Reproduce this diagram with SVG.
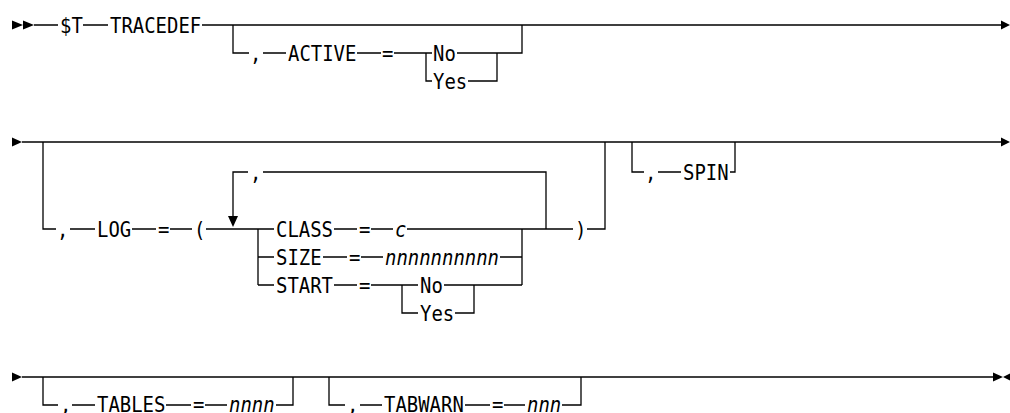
<svg xmlns="http://www.w3.org/2000/svg" width="1010" height="413" viewBox="0 0 1010 413">
<style>
.ln{fill:none;stroke:#000;stroke-width:1.3}
.ah{fill:#000}
text{font-family:"DejaVu Sans Mono","Liberation Mono",monospace;font-size:22px;fill:#000}
.v{font-style:italic}
</style>
<rect width="1010" height="413" fill="#fff"/>
<g id="connectors">
<polygon class="ah" points="12,20.5 23,25 12,29.5"/>
<polygon class="ah" points="23,20.5 34,25 23,29.5"/>
<path class="ln" d="M34,25H58M83,25H108M202,25H1002"/>
<polygon class="ah" points="1001,20.5 1010,25 1001,29.5"/>
<path class="ln" d="M233,25V53H249M263,53H286M357,53H381M394,53H432M457,53H522V25M426,53V81H432M468,81H497V53"/>
<polygon class="ah" points="12,137.5 22,142 12,146.5"/>
<path class="ln" d="M22,142H1002"/>
<polygon class="ah" points="1001,137.5 1010,142 1001,146.5"/>
<path class="ln" d="M43,142V229H56M70,229H95M132,229H156M170,229H192M206,229H274M334,229H357M371,229H393M407,229H573M587,229H605V142"/>
<path class="ln" d="M233,217V172H248M263,172H546V229"/>
<polygon class="ah" points="228,216 238,216 233,227"/>
<path class="ln" d="M258,229V285M258,257H274M323,257H347M361,257H383M500,257H522M522,229V285"/>
<path class="ln" d="M258,285H274M334,285H357M371,285H418M444,285H522M402,285V313H418M455,313H474V285"/>
<path class="ln" d="M632,142V172H644M658,172H681M730,172H735V142"/>
<polygon class="ah" points="12,372.5 22,377 12,381.5"/>
<path class="ln" d="M22,377H993"/>
<polygon class="ah" points="993,372.5 1003,377 993,381.5"/>
<polygon class="ah" points="1012,372.5 1003,377 1012,381.5"/>
<path class="ln" d="M43,377V405H58M72,405H95M166,405H191M205,405H227M276,405H293V377"/>
<path class="ln" d="M329,377V405H345M360,405H382M465,405H490M504,405H525M562,405H581V377"/>
</g>
<g id="n-T"><text x="60" y="33" textLength="22.8" lengthAdjust="spacingAndGlyphs">$T</text></g>
<g id="n-tracedef"><text x="110" y="33" textLength="91.2" lengthAdjust="spacingAndGlyphs">TRACEDEF</text></g>
<g id="n-active"><text x="250" y="61" textLength="11.4" lengthAdjust="spacingAndGlyphs">,</text><text x="288" y="61" textLength="68.4" lengthAdjust="spacingAndGlyphs">ACTIVE</text><text x="382" y="61" textLength="11.4" lengthAdjust="spacingAndGlyphs">=</text></g>
<g id="n-active-no"><text x="433" y="61" textLength="22.8" lengthAdjust="spacingAndGlyphs">No</text></g>
<g id="n-active-yes"><text x="433" y="89" textLength="34.2" lengthAdjust="spacingAndGlyphs">Yes</text></g>
<g id="n-log"><text x="57" y="237" textLength="11.4" lengthAdjust="spacingAndGlyphs">,</text><text x="97" y="237" textLength="34.2" lengthAdjust="spacingAndGlyphs">LOG</text><text x="158" y="237" textLength="11.4" lengthAdjust="spacingAndGlyphs">=</text><text x="194" y="237" textLength="11.4" lengthAdjust="spacingAndGlyphs">(</text></g>
<g id="n-loop-sep"><text x="250" y="180" textLength="11.4" lengthAdjust="spacingAndGlyphs">,</text></g>
<g id="n-class"><text x="276" y="237" textLength="57" lengthAdjust="spacingAndGlyphs">CLASS</text><text x="359" y="237" textLength="11.4" lengthAdjust="spacingAndGlyphs">=</text><text class="v" x="395" y="237" textLength="11.4" lengthAdjust="spacingAndGlyphs">c</text></g>
<g id="n-size"><text x="276" y="265" textLength="45.6" lengthAdjust="spacingAndGlyphs">SIZE</text><text x="349" y="265" textLength="11.4" lengthAdjust="spacingAndGlyphs">=</text><text class="v" x="385" y="265" textLength="114" lengthAdjust="spacingAndGlyphs">nnnnnnnnnn</text></g>
<g id="n-start"><text x="276" y="293" textLength="57" lengthAdjust="spacingAndGlyphs">START</text><text x="359" y="293" textLength="11.4" lengthAdjust="spacingAndGlyphs">=</text></g>
<g id="n-start-no"><text x="420" y="293" textLength="22.8" lengthAdjust="spacingAndGlyphs">No</text></g>
<g id="n-start-yes"><text x="420" y="321" textLength="34.2" lengthAdjust="spacingAndGlyphs">Yes</text></g>
<g id="n-close"><text x="575" y="237" textLength="11.4" lengthAdjust="spacingAndGlyphs">)</text></g>
<g id="n-spin"><text x="645" y="180" textLength="11.4" lengthAdjust="spacingAndGlyphs">,</text><text x="683" y="180" textLength="45.6" lengthAdjust="spacingAndGlyphs">SPIN</text></g>
<g id="n-tables"><text x="60" y="412" textLength="11.4" lengthAdjust="spacingAndGlyphs">,</text><text x="97" y="412" textLength="68.4" lengthAdjust="spacingAndGlyphs">TABLES</text><text x="193" y="412" textLength="11.4" lengthAdjust="spacingAndGlyphs">=</text><text class="v" x="229" y="412" textLength="45.6" lengthAdjust="spacingAndGlyphs">nnnn</text></g>
<g id="n-tabwarn"><text x="347" y="412" textLength="11.4" lengthAdjust="spacingAndGlyphs">,</text><text x="384" y="412" textLength="79.8" lengthAdjust="spacingAndGlyphs">TABWARN</text><text x="492" y="412" textLength="11.4" lengthAdjust="spacingAndGlyphs">=</text><text class="v" x="527" y="412" textLength="34.2" lengthAdjust="spacingAndGlyphs">nnn</text></g>
</svg>
